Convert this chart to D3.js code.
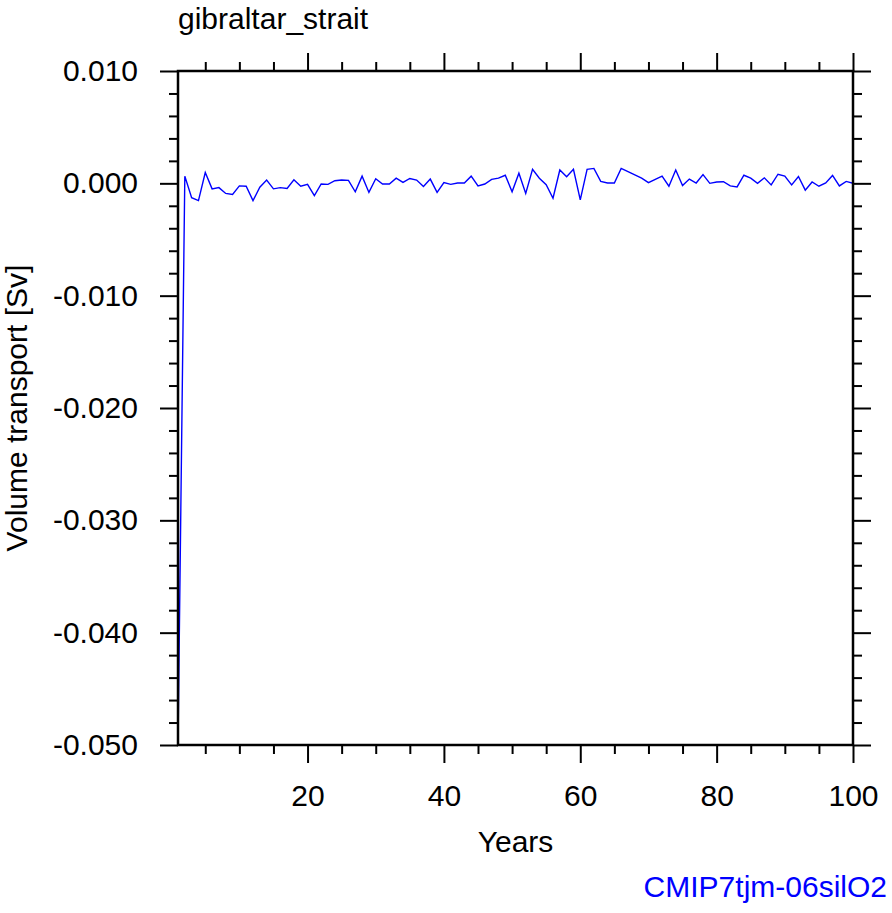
<!DOCTYPE html>
<html>
<head>
<meta charset="utf-8">
<script src="https://cdn.jsdelivr.net/npm/d3@7"></script>
<style>
  html, body { margin: 0; padding: 0; background: #fff; }
  svg { display: block; }
  text { font-family: "Liberation Sans", Arial, Helvetica, sans-serif; }
</style>
</head>
<body>
<svg id="chart" width="892" height="913"></svg>
<script>
const title = "gibraltar_strait";
const xLabel = "Years";
const yLabel = "Volume transport [Sv]";
const caption = "CMIP7tjm-06silO2";

const years = [1,2,3,4,5,6,7,8,9,10,11,12,13,14,15,16,17,18,19,20,
  21,22,23,24,25,26,27,28,29,30,31,32,33,34,35,36,37,38,39,40,
  41,42,43,44,45,46,47,48,49,50,51,52,53,54,55,56,57,58,59,60,
  61,62,63,64,65,66,67,68,69,70,71,72,73,74,75,76,77,78,79,80,
  81,82,83,84,85,86,87,88,89,90,91,92,93,94,95,96,97,98,99,100];

const transport = [
  -0.0500, 0.00064, -0.00128, -0.00154, 0.00096, -0.00049, -0.00038, -0.00090, -0.00099, -0.00023,
  -0.00026, -0.00154, -0.00035, 0.00029, -0.00049, -0.00038, -0.00046, 0.00032, -0.00026, -0.00009,
  -0.00110, -0.00006, -0.00009, 0.00023, 0.00029, 0.00026, -0.00075, 0.00064, -0.00081, 0.00041,
  -0.00006, -0.00006, 0.00046, 0.00009, 0.00043, 0.00029, -0.00029, 0.00038, -0.00081, 0.00006,
  -0.00009, 0.00003, 0.00003, 0.00064, -0.00023, -0.00006, 0.00035, 0.00046, 0.00072, -0.00075,
  0.00090, -0.00090, 0.00125, 0.00046, -0.00012, -0.00133, 0.00119, 0.00058, 0.00125, -0.00148,
  0.00125, 0.00133, 0.00017, 0.00003, 0.00003, 0.00133, 0.00104, 0.00075, 0.00046, 0.00006,
  0.00035, 0.00064, -0.00026, 0.00119, -0.00020, 0.00038, 0.00003, 0.00078, 0.00000, 0.00012,
  0.00014, -0.00023, -0.00032, 0.00072, 0.00046, 0.00000, 0.00049, -0.00014, 0.00081, 0.00064,
  -0.00014, 0.00061, -0.00061, 0.00012, -0.00026, 0.00003, 0.00070, -0.00023, 0.00017, 0.00000
];

const xMajorTicks = [20, 40, 60, 80, 100];
const xMinorTicks = [5, 10, 15, 25, 30, 35, 45, 50, 55, 65, 70, 75, 85, 90, 95];
const yMajorTicks = [-0.05, -0.04, -0.03, -0.02, -0.01, 0.0, 0.01];
const yMinorTicks = [-0.048, -0.046, -0.044, -0.042, -0.038, -0.036, -0.034, -0.032,
  -0.028, -0.026, -0.024, -0.022, -0.018, -0.016, -0.014, -0.012,
  -0.008, -0.006, -0.004, -0.002, 0.002, 0.004, 0.006, 0.008];
const yDomain = [-0.05, 0.01];
const xDomain = [1, 100];

const L = 178, R = 853, T = 71, B = 745;
const svg = d3.select("#chart");

const x = d3.scaleLinear().domain(xDomain).range([L, R]);
const y = d3.scaleLinear().domain(yDomain).range([B, T]);

const fmt = d => (Math.abs(d) < 1e-12 ? 0 : d).toFixed(3);

function styleAxis(g) {
  g.select(".domain").remove();
  g.selectAll(".tick line").attr("stroke", "#000").attr("stroke-width", 2);
  g.selectAll(".tick text").attr("fill", "#000").attr("font-size", 30);
}

svg.append("clipPath").attr("id", "plotclip")
  .append("rect").attr("x", L).attr("y", T).attr("width", R - L).attr("height", B - T);

const line = d3.line().x((d, i) => x(years[i])).y(d => y(d));
svg.append("path")
  .datum(transport)
  .attr("clip-path", "url(#plotclip)")
  .attr("fill", "none")
  .attr("stroke", "#0000ff")
  .attr("stroke-width", 1.4)
  .attr("d", line);

svg.append("g").attr("transform", `translate(0,${B})`)
  .call(d3.axisBottom(x).tickValues(xMajorTicks).tickSize(18).tickPadding(22).tickFormat(d3.format("d")))
  .call(styleAxis);
svg.append("g").attr("transform", `translate(0,${B})`)
  .call(d3.axisBottom(x).tickValues(xMinorTicks).tickSize(9).tickFormat(""))
  .call(styleAxis);
svg.append("g").attr("transform", `translate(0,${T})`)
  .call(d3.axisTop(x).tickValues(xMajorTicks).tickSize(18).tickFormat(""))
  .call(styleAxis);
svg.append("g").attr("transform", `translate(0,${T})`)
  .call(d3.axisTop(x).tickValues(xMinorTicks).tickSize(9).tickFormat(""))
  .call(styleAxis);
svg.append("g").attr("transform", `translate(${L},0)`)
  .call(d3.axisLeft(y).tickValues(yMajorTicks).tickSize(18).tickPadding(22).tickFormat(fmt))
  .call(styleAxis);
svg.append("g").attr("transform", `translate(${L},0)`)
  .call(d3.axisLeft(y).tickValues(yMinorTicks).tickSize(9).tickFormat(""))
  .call(styleAxis);
svg.append("g").attr("transform", `translate(${R},0)`)
  .call(d3.axisRight(y).tickValues(yMajorTicks).tickSize(18).tickFormat(""))
  .call(styleAxis);
svg.append("g").attr("transform", `translate(${R},0)`)
  .call(d3.axisRight(y).tickValues(yMinorTicks).tickSize(9).tickFormat(""))
  .call(styleAxis);

svg.append("rect")
  .attr("x", L).attr("y", T).attr("width", R - L).attr("height", B - T)
  .attr("fill", "none").attr("stroke", "#000").attr("stroke-width", 2.5);

svg.append("text").attr("x", L).attr("y", 29)
  .attr("font-size", 30).attr("fill", "#000").text(title);

svg.append("text").attr("x", (L + R) / 2).attr("y", 852)
  .attr("text-anchor", "middle").attr("font-size", 30).attr("fill", "#000").text(xLabel);

svg.append("text")
  .attr("transform", `translate(27,${(T + B) / 2}) rotate(-90)`)
  .attr("text-anchor", "middle").attr("font-size", 30).attr("fill", "#000").text(yLabel);

svg.append("text").attr("x", 887).attr("y", 897)
  .attr("text-anchor", "end").attr("font-size", 30).attr("fill", "#0000ff").text(caption);
</script>
</body>
</html>
